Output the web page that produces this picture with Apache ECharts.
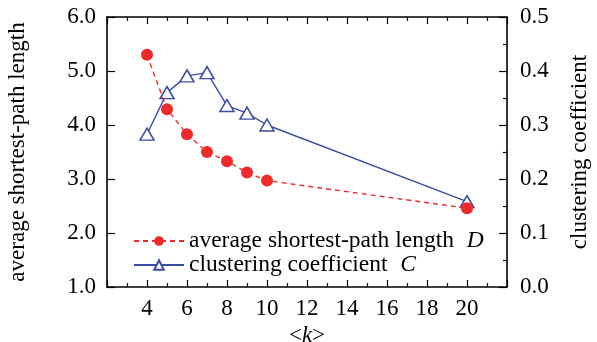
<!DOCTYPE html>
<html><head><meta charset="utf-8">
<script src="https://cdn.jsdelivr.net/npm/echarts@6/dist/echarts.min.js"></script>
<style>html,body{margin:0;padding:0;background:#fff}#c{width:597px;height:342px}</style>
</head><body><div id="c"></div>
<script>
const kValues = [4, 5, 6, 7, 8, 9, 10, 20];
const pathLength = [5.30, 4.29, 3.83, 3.50, 3.33, 3.12, 2.97, 2.46];
const clustering = [0.283, 0.360, 0.391, 0.397, 0.336, 0.322, 0.300, 0.158];
const xTicks = [4, 6, 8, 10, 12, 14, 16, 18, 20];
const nameD = 'average shortest-path length';
const nameC = 'clustering coefficient';

const FONT = 'Liberation Serif';
const FS = 23;
const FL = 23.5;
const chart = echarts.init(document.getElementById('c'), null, {renderer: 'canvas'});
const axisLine = {show: true, lineStyle: {color: '#000', width: 1.6}};
chart.setOption({
  animation: false,
  backgroundColor: '#fff',
  textStyle: {fontFamily: FONT},
  grid: {left: 107, right: 90, top: 17, bottom: 55, containLabel: false, outerBoundsMode: 'none'},
  legend: {
    orient: 'vertical', left: 128, top: 224, itemGap: 0,
    itemWidth: 50, itemHeight: 12,
    textStyle: {fontFamily: FONT, fontSize: FL, color: '#000', lineHeight: 22,
      rich: {i: {fontFamily: FONT, fontStyle: 'italic', fontSize: FL, color: '#000', lineHeight: 22, padding: [0, 0, 0, 1]}}},
    formatter: n => n === nameD ? n + '  {i|D}' : n + '  {i|C}',
    data: [nameD, nameC]
  },
  xAxis: [{
    type: 'value', min: 2, max: 22, interval: 2, position: 'bottom',
    name: '<{i|k}>', nameLocation: 'middle', nameGap: 31,
    nameTextStyle: {fontFamily: FONT, fontSize: FS, color: '#000',
      rich: {i: {fontFamily: FONT, fontStyle: 'italic', fontSize: FS, color: '#000'}}},
    axisLine: axisLine,
    axisTick: {inside: true, length: 7, lineStyle: {color: '#000', width: 1.2}},
    minorTick: {show: true, splitNumber: 2, length: 4, lineStyle: {color: '#000', width: 1.2}},
    axisLabel: {fontFamily: FONT, fontSize: FS, color: '#000', margin: 10,
      formatter: v => xTicks.includes(v) ? String(v) : ''},
    splitLine: {show: false}
  }, {
    type: 'value', min: 2, max: 22, interval: 2, position: 'top',
    axisLine: axisLine,
    axisTick: {inside: true, length: 7, lineStyle: {color: '#000', width: 1.2}},
    minorTick: {show: true, splitNumber: 2, length: 4, lineStyle: {color: '#000', width: 1.2}},
    axisLabel: {show: false}, splitLine: {show: false}
  }],
  yAxis: [{
    type: 'value', min: 1, max: 6, interval: 1, position: 'left',
    name: 'average shortest-path length', nameLocation: 'middle', nameGap: 78,
    nameTextStyle: {fontFamily: FONT, fontSize: FS, color: '#000'},
    axisLine: axisLine,
    axisTick: {inside: true, length: 8, lineStyle: {color: '#000', width: 1.2}},
    axisLabel: {fontFamily: FONT, fontSize: FS, color: '#000', margin: 11,
      formatter: v => v.toFixed(1)},
    splitLine: {show: false}
  }, {
    type: 'value', min: 0, max: 0.5, interval: 0.1, position: 'right',
    name: 'clustering coefficient', nameLocation: 'middle', nameGap: 61, nameRotate: 90,
    nameTextStyle: {fontFamily: FONT, fontSize: FS, color: '#000'},
    axisLine: axisLine,
    axisTick: {inside: true, length: 8, lineStyle: {color: '#000', width: 1.2}},
    minorTick: {show: true, splitNumber: 2, length: 4, lineStyle: {color: '#000', width: 1.2}},
    axisLabel: {fontFamily: FONT, fontSize: FS, color: '#000', margin: 13,
      formatter: v => v.toFixed(1)},
    splitLine: {show: false}
  }],
  series: [{
    name: nameD, type: 'line', xAxisIndex: 0, yAxisIndex: 0,
    data: kValues.map((k, i) => [k, pathLength[i]]),
    symbol: 'circle', symbolSize: 12,
    itemStyle: {color: '#ee2a2a', borderWidth: 0},
    lineStyle: {color: '#ee2a2a', width: 1.4, type: [5, 4]},
    z: 3
  }, {
    name: nameC, type: 'line', xAxisIndex: 0, yAxisIndex: 1,
    data: kValues.map((k, i) => [k, clustering[i]]),
    symbol: 'triangle', symbolSize: [14, 12],
    itemStyle: {color: '#fff', borderColor: '#3b4ea3', borderWidth: 1.5},
    lineStyle: {color: '#3b4ea3', width: 1.4},
    z: 2
  }]
});
</script></body></html>
